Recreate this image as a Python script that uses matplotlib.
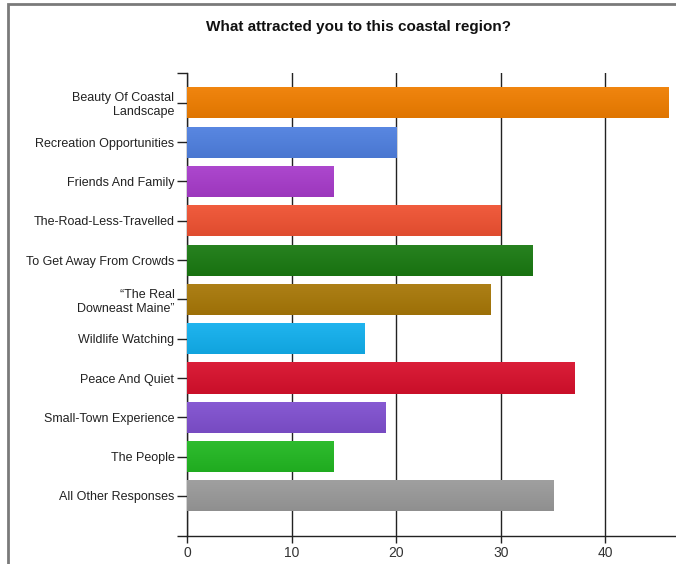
import numpy as np
import matplotlib.pyplot as plt
from matplotlib.colors import to_rgb
from matplotlib.patches import Rectangle

plt.rcParams['font.family'] = ['Liberation Sans', 'DejaVu Sans']

categories = ['Beauty Of Coastal\nLandscape', 'Recreation Opportunities', 'Friends And Family',
              'The-Road-Less-Travelled', 'To Get Away From Crowds',
              '\u201cThe Real\nDowneast Maine\u201d', 'Wildlife Watching', 'Peace And Quiet',
              'Small-Town Experience', 'The People', 'All Other Responses']
counts = [46, 20, 14, 30, 33, 29, 17, 37, 19, 14, 35]
colors = ['#F07E00', '#4F80E0', '#A83CCB', '#F05232', '#1A7A12', '#A87808',
          '#12B0EE', '#D8102C', '#8050D0', '#22B822', '#9A9A9A']
xticks = [0, 10, 20, 30, 40]

fig = plt.figure(figsize=(6.76, 5.64), dpi=100)
ax = fig.add_axes([0.2766, 0.0496, 0.7234, 0.821])

y = np.arange(len(categories))
bars = ax.barh(y, counts, height=0.79, color=colors, zorder=2)

# soft vertical shading on each bar: a touch lighter on top, darker below
grad = np.linspace(0, 1, 64).reshape(-1, 1)
for bar, c in zip(bars, colors):
    rgb = np.array(to_rgb(c))
    top = np.clip(rgb * 0.94 + 0.06, 0, 1)
    bot = rgb * 0.93
    img = top[None, None, :] * (1 - grad[:, :, None]) + bot[None, None, :] * grad[:, :, None]
    x0, y0 = bar.get_x(), bar.get_y()
    w, h = bar.get_width(), bar.get_height()
    im = ax.imshow(img, extent=(x0, x0 + w, y0 + h, y0), aspect='auto',
                   interpolation='bilinear', zorder=3)
    im.set_clip_path(bar)

ax.set_xlim(0, 46.75)
ax.set_ylim(len(categories) - 1 + 1.02, -0.76)
ax.set_yticks(y)
ax.set_yticklabels(categories, fontsize=9, color='#222222')
ax.set_yticks([len(categories) - 1 + 1.02, -0.76], minor=True)
ax.set_xticks(xticks)
ax.set_xticklabels([str(v) for v in xticks], fontsize=10, color='#333333')
ax.tick_params(axis='y', which='both', length=7, width=1, color='#222222', pad=2)
ax.tick_params(axis='x', length=5, width=1, color='#222222', pad=2)

ax.grid(axis='x', color='#222222', linewidth=1, zorder=1)
ax.set_axisbelow(True)
for s in ['top', 'right']:
    ax.spines[s].set_visible(False)
for s in ['left', 'bottom']:
    ax.spines[s].set_color('#222222')
    ax.spines[s].set_linewidth(1)

fig.text(358 / 676, 1 - 27 / 564, 'What attracted you to this coastal region?',
         ha='center', va='center', fontsize=11, fontweight='bold', color='#111111')

# outer frame (left and top edges show)
fig.patches.append(Rectangle((8 / 676, -0.05), 1.1, 1 - 4 / 564 + 0.05,
                             transform=fig.transFigure, fill=False,
                             edgecolor='#7a7a7a', linewidth=2))

fig.savefig('out.png', dpi=100)
